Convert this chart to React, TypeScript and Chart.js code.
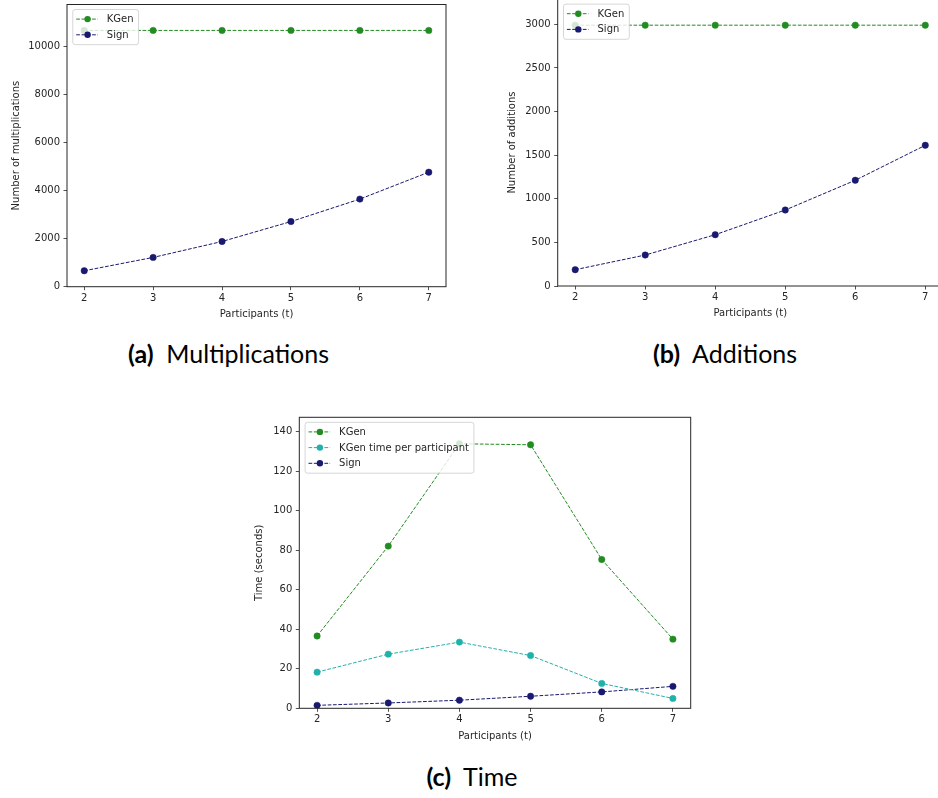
import React, { useEffect, useRef } from "react";
import { Chart, registerables } from "chart.js";

Chart.register(...registerables);

// ---------------- data ----------------
const participants = [2, 3, 4, 5, 6, 7];
const xTicks = [2, 3, 4, 5, 6, 7];

const multKGen = [10680, 10680, 10680, 10680, 10680, 10680];
const multSign = [664, 1220, 1884, 2714, 3651, 4772];
const multTicks = [0, 2000, 4000, 6000, 8000, 10000];

const addKGen = [2990, 2990, 2990, 2990, 2990, 2990];
const addSign = [187, 355, 588, 871, 1212, 1613];
const addTicks = [0, 500, 1000, 1500, 2000, 2500, 3000];

const timeKGen = [36.6, 82.1, 133.9, 133.4, 75.3, 35.0];
const timeKGenPerParticipant = [18.3, 27.4, 33.5, 26.7, 12.6, 5.0];
const timeSign = [1.5, 2.7, 4.1, 6.1, 8.3, 11.1];
const timeTicks = [0, 20, 40, 60, 80, 100, 120, 140];

// ---------------- styles ----------------
const FONT = '"DejaVu Sans", sans-serif';
const INK = "#262626";
const GREEN = "#228B22";
const NAVY = "#191970";
const TEAL = "#20B2AA";

type Series = { label: string; color: string; values: number[] };

interface PanelSpec {
  canvas: { left: number; top: number; width: number; height: number };
  plot: { L: number; T: number; R: number; B: number };
  yMax: number;
  yTicks: number[];
  yTitle: string;
  yTitleGap: number;
  xTitle: string;
  xTitleGap: number;
  series: Series[];
}

const framePlugin = {
  id: "frame",
  afterDatasetsDraw(chart: any, _args: any, opts: any) {
    const { ctx, chartArea: a } = chart;
    ctx.save();
    ctx.strokeStyle = INK;
    ctx.lineWidth = 1;
    ctx.setLineDash([]);
    ctx.strokeRect(a.left, a.top, a.right - a.left, a.bottom - a.top);

    ctx.fillStyle = INK;
    ctx.font = `10px ${FONT}`;
    ctx.textAlign = "center";
    ctx.textBaseline = "middle";
    ctx.fillText(opts.xTitle, (a.left + a.right) / 2, a.bottom + opts.xTitleGap);
    ctx.save();
    ctx.translate(a.left - opts.yTitleGap, (a.top + a.bottom) / 2);
    ctx.rotate(-Math.PI / 2);
    ctx.fillText(opts.yTitle, 0, 0);
    ctx.restore();

    // legend
    const series: Series[] = opts.series;
    ctx.font = `10px ${FONT}`;
    const textW = Math.max(...series.map((s) => ctx.measureText(s.label).width));
    const bx = a.left + 5.8;
    const by = a.top + 5.0;
    const rowH = 15.7;
    const bw = 34 + textW + 5;
    const bh = 19.5 + (series.length - 1) * rowH;
    ctx.beginPath();
    const r = 2.5;
    ctx.moveTo(bx + r, by);
    ctx.arcTo(bx + bw, by, bx + bw, by + bh, r);
    ctx.arcTo(bx + bw, by + bh, bx, by + bh, r);
    ctx.arcTo(bx, by + bh, bx, by, r);
    ctx.arcTo(bx, by, bx + bw, by, r);
    ctx.closePath();
    ctx.fillStyle = "rgba(255,255,255,0.8)";
    ctx.fill();
    ctx.strokeStyle = "rgba(204,204,204,0.8)";
    ctx.lineWidth = 1;
    ctx.stroke();

    series.forEach((s, i) => {
      const cy = by + 9.6 + i * rowH;
      ctx.strokeStyle = s.color;
      ctx.lineWidth = 1;
      ctx.setLineDash([3.7, 1.6]);
      ctx.beginPath();
      ctx.moveTo(bx + 3.4, cy);
      ctx.lineTo(bx + 25, cy);
      ctx.stroke();
      ctx.setLineDash([]);
      ctx.fillStyle = s.color;
      ctx.beginPath();
      ctx.arc(bx + 14.8, cy, 3.2, 0, Math.PI * 2);
      ctx.fill();
      ctx.fillStyle = INK;
      ctx.textAlign = "left";
      ctx.textBaseline = "middle";
      ctx.fillText(s.label, bx + 34, cy + 0.5);
    });
    ctx.restore();
  },
};

function Panel({ spec }: { spec: PanelSpec }) {
  const ref = useRef<HTMLCanvasElement | null>(null);
  useEffect(() => {
    if (!ref.current) return;
    const { canvas: c, plot: p } = spec;
    const tickFont = { family: FONT, size: 10 };
    const chart = new Chart(ref.current, {
      type: "line",
      data: {
        datasets: spec.series.map((s) => ({
          label: s.label,
          data: participants.map((x, i) => ({ x, y: s.values[i] })),
          borderColor: s.color,
          backgroundColor: s.color,
          borderWidth: 1,
          borderDash: [3.7, 1.6],
          pointRadius: 3.2,
          pointBorderWidth: 0.5,
          pointBackgroundColor: s.color,
          pointBorderColor: s.color,
          tension: 0,
          fill: false,
        })),
      },
      options: {
        animation: false,
        responsive: false,
        maintainAspectRatio: false,
        events: [],
        layout: {
          padding: {
            left: 0,
            top: p.T - c.top,
            right: c.left + c.width - p.R,
            bottom: 0,
          },
        },
        plugins: {
          legend: { display: false },
          tooltip: { enabled: false },
          frame: {
            xTitle: spec.xTitle,
            yTitle: spec.yTitle,
            xTitleGap: spec.xTitleGap,
            yTitleGap: spec.yTitleGap,
            series: spec.series,
          },
        } as any,
        scales: {
          x: {
            type: "linear",
            min: 1.75,
            max: 7.25,
            afterBuildTicks: (s: any) => {
              s.ticks = xTicks.map((v) => ({ value: v }));
            },
            afterFit: (s: any) => {
              s.height = c.top + c.height - p.B;
              s.paddingLeft = 0;
              s.paddingRight = 0;
            },
            grid: { drawOnChartArea: false, drawTicks: true, tickLength: 3.5, color: INK, lineWidth: 0.8 },
            border: { display: false },
            ticks: {
              font: tickFont,
              color: INK,
              padding: 2,
              maxRotation: 0,
              autoSkip: false,
              callback: (v: any) => String(v),
            },
          },
          y: {
            type: "linear",
            min: 0,
            max: spec.yMax,
            afterBuildTicks: (s: any) => {
              s.ticks = spec.yTicks.map((v) => ({ value: v }));
            },
            afterFit: (s: any) => {
              s.width = p.L - c.left;
              s.paddingTop = 0;
              s.paddingBottom = 0;
            },
            grid: { drawOnChartArea: false, drawTicks: true, tickLength: 3.5, color: INK, lineWidth: 0.8 },
            border: { display: false },
            ticks: {
              font: tickFont,
              color: INK,
              padding: 3.5,
              autoSkip: false,
              callback: (v: any) => String(v),
            },
          },
        },
      },
      plugins: [framePlugin],
    } as any);
    return () => chart.destroy();
  }, [spec]);
  const { canvas: c } = spec;
  return (
    <canvas
      ref={ref}
      width={c.width}
      height={c.height}
      style={{ position: "absolute", left: c.left, top: c.top, width: c.width, height: c.height }}
    />
  );
}

const panelA: PanelSpec = {
  canvas: { left: 0, top: 0, width: 460, height: 330 },
  plot: { L: 67, T: 3.3, R: 446, B: 286.7 },
  yMax: 11760,
  yTicks: multTicks,
  yTitle: "Number of multiplications",
  yTitleGap: 51,
  xTitle: "Participants (t)",
  xTitleGap: 27.3,
  series: [
    { label: "KGen", color: GREEN, values: multKGen },
    { label: "Sign", color: NAVY, values: multSign },
  ],
};

const panelB: PanelSpec = {
  canvas: { left: 470, top: -10, width: 480, height: 340 },
  plot: { L: 557.7, T: -0.9, R: 942.8, B: 286 },
  yMax: 3289,
  yTicks: addTicks,
  yTitle: "Number of additions",
  yTitleGap: 45.4,
  xTitle: "Participants (t)",
  xTitleGap: 27.7,
  series: [
    { label: "KGen", color: GREEN, values: addKGen },
    { label: "Sign", color: NAVY, values: addSign },
  ],
};

const panelC: PanelSpec = {
  canvas: { left: 250, top: 405, width: 450, height: 345 },
  plot: { L: 299.3, T: 417.3, R: 690.7, B: 708.3 },
  yMax: 147.3,
  yTicks: timeTicks,
  yTitle: "Time (seconds)",
  yTitleGap: 40,
  xTitle: "Participants (t)",
  xTitleGap: 27.7,
  series: [
    { label: "KGen", color: GREEN, values: timeKGen },
    { label: "KGen time per participant", color: TEAL, values: timeKGenPerParticipant },
    { label: "Sign", color: NAVY, values: timeSign },
  ],
};

const captionStyle = (cx: number, top: number): React.CSSProperties => ({
  position: "absolute",
  left: cx,
  top,
  transform: "translateX(-50%)",
  whiteSpace: "nowrap",
  fontFamily: "Lato, sans-serif",
  fontSize: 25,
  lineHeight: "25px",
  color: "#000",
});

export default function App() {
  return (
    <div
      style={{
        position: "fixed",
        left: 0,
        top: 0,
        width: 938,
        height: 798,
        overflow: "hidden",
        background: "#fff",
      }}
    >
      <Panel spec={panelA} />
      <Panel spec={panelB} />
      <Panel spec={panelC} />
      <div style={captionStyle(228.5, 341)}>
        <b>(a)</b>&nbsp; Multiplications
      </div>
      <div style={captionStyle(725, 341)}>
        <b>(b)</b>&nbsp; Additions
      </div>
      <div style={captionStyle(472, 764)}>
        <b>(c)</b>&nbsp; Time
      </div>
    </div>
  );
}
